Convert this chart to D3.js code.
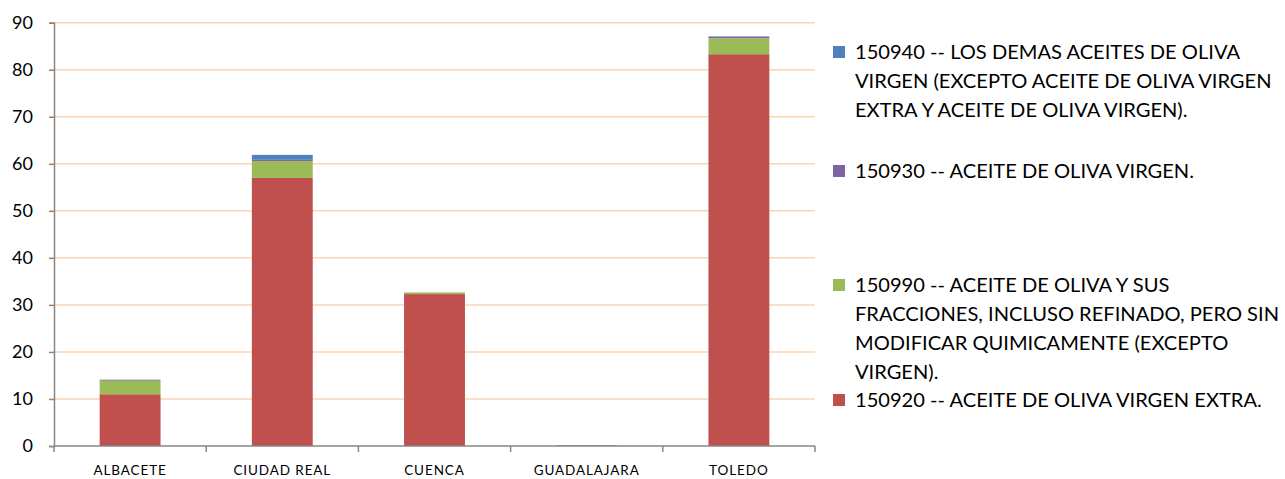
<!DOCTYPE html>
<html>
<head>
<meta charset="utf-8">
<script src="https://cdn.jsdelivr.net/npm/d3@7"></script>
<style>
  body { margin: 0; background: #fff; }
  text { font-family: Lato, "Open Sans", sans-serif; fill: #000; }
</style>
</head>
<body>
<div id="chart"></div>
<script>
var categories = ["ALBACETE", "CIUDAD REAL", "CUENCA", "GUADALAJARA", "TOLEDO"];
var yTicks = [0, 10, 20, 30, 40, 50, 60, 70, 80, 90];

// stacked from bottom to top
var seriesKeys = ["150920", "150990", "150930", "150940"];
var v150920 = [11.0, 57.0, 32.3, 0.15, 83.3];
var v150990 = [2.9, 3.6, 0.35, 0, 3.4];
var v150930 = [0.2, 0.25, 0, 0, 0.3];
var v150940 = [0, 1.05, 0, 0, 0.1];
var colors = {"150920": "#C0504D", "150990": "#9BBB59", "150930": "#8064A2", "150940": "#4F81BD"};

// legend order top to bottom, with wrapped lines
var legendKeys = ["150940", "150930", "150990", "150920"];
var legendLines = [
  ["150940 -- LOS DEMAS ACEITES DE OLIVA", "VIRGEN (EXCEPTO ACEITE DE OLIVA VIRGEN", "EXTRA Y ACEITE DE OLIVA VIRGEN)."],
  ["150930 -- ACEITE DE OLIVA VIRGEN."],
  ["150990 -- ACEITE DE OLIVA Y SUS", "FRACCIONES, INCLUSO REFINADO, PERO SIN", "MODIFICAR QUIMICAMENTE (EXCEPTO", "VIRGEN)."],
  ["150920 -- ACEITE DE OLIVA VIRGEN EXTRA."]
];
var legendTop = [52, 171, 285, 400];

var W = 1285, H = 479;
var margin = {top: 22.7, left: 54, right: 470, bottom: 33};

var svg = d3.select("#chart").append("svg")
    .attr("width", W)
    .attr("height", H);

var data = categories.map(function(c, i) {
  return {cat: c, "150920": v150920[i], "150990": v150990[i], "150930": v150930[i], "150940": v150940[i]};
});

var x = d3.scaleBand()
  .domain(categories)
  .range([margin.left, W - margin.right])
  .paddingInner(0.6)
  .paddingOuter(0.3);

var y = d3.scaleLinear()
  .domain([0, 90])
  .range([H - margin.bottom, margin.top]);

// gridlines
svg.append("g")
  .selectAll("line")
  .data(yTicks.slice(1))
  .enter().append("line")
    .attr("x1", margin.left)
    .attr("x2", W - margin.right)
    .attr("y1", function(d) { return y(d); })
    .attr("y2", function(d) { return y(d); })
    .attr("stroke", "#FCD5B5")
    .attr("stroke-width", 1.5);

// bars
var stack = d3.stack().keys(seriesKeys);
var layers = stack(data);

svg.append("g")
  .selectAll("g")
  .data(layers)
  .enter().append("g")
    .attr("fill", function(d) { return colors[d.key]; })
  .selectAll("rect")
  .data(function(d) { return d; })
  .enter().append("rect")
    .attr("x", function(d) { return x(d.data.cat); })
    .attr("y", function(d) { return y(d[1]); })
    .attr("width", x.bandwidth())
    .attr("height", function(d) { return Math.max(0, y(d[0]) - y(d[1])); });

// y axis
var yAxis = svg.append("g")
  .attr("transform", "translate(" + margin.left + ",0)")
  .call(d3.axisLeft(y).tickValues(yTicks).tickSize(5).tickPadding(16));
yAxis.select(".domain").attr("stroke", "#868686").attr("stroke-width", 1.5);
yAxis.selectAll(".tick line").attr("stroke", "#868686").attr("stroke-width", 1.5);
yAxis.selectAll(".tick text")
  .style("font-size", "18px")
  .style("font-family", "Lato, sans-serif")
  .attr("fill", "#000");

// x axis: tick marks at category boundaries
var bounds = d3.range(categories.length + 1).map(function(i) { return margin.left + i * ((W - margin.right - margin.left) / categories.length); });
var xg = svg.append("g");
xg.append("line")
  .attr("x1", margin.left).attr("x2", W - margin.right)
  .attr("y1", y(0)).attr("y2", y(0))
  .attr("stroke", "#868686").attr("stroke-width", 1.5);
xg.selectAll("line.tk")
  .data(bounds)
  .enter().append("line")
    .attr("class", "tk")
    .attr("x1", function(d) { return d; })
    .attr("x2", function(d) { return d; })
    .attr("y1", y(0))
    .attr("y2", y(0) + 6)
    .attr("stroke", "#868686")
    .attr("stroke-width", 1.5);
xg.selectAll("text")
  .data(categories)
  .enter().append("text")
    .attr("x", function(d) { return x(d) + x.bandwidth() / 2; })
    .attr("y", 475)
    .attr("text-anchor", "middle")
    .style("font-size", "13.5px")
    .style("letter-spacing", "0.9px")
    .text(function(d) { return d; });

// legend
var legend = svg.append("g");
legendKeys.forEach(function(k, i) {
  var g = legend.append("g");
  g.append("rect")
    .attr("x", 833)
    .attr("y", legendTop[i] - 6)
    .attr("width", 12)
    .attr("height", 12)
    .attr("fill", colors[k]);
  legendLines[i].forEach(function(line, j) {
    g.append("text")
      .attr("x", 855)
      .attr("y", legendTop[i] + j * 29)
      .attr("dy", "0.35em")
      .style("font-size", "20.1px")
      .text(line);
  });
});
</script>
</body>
</html>
